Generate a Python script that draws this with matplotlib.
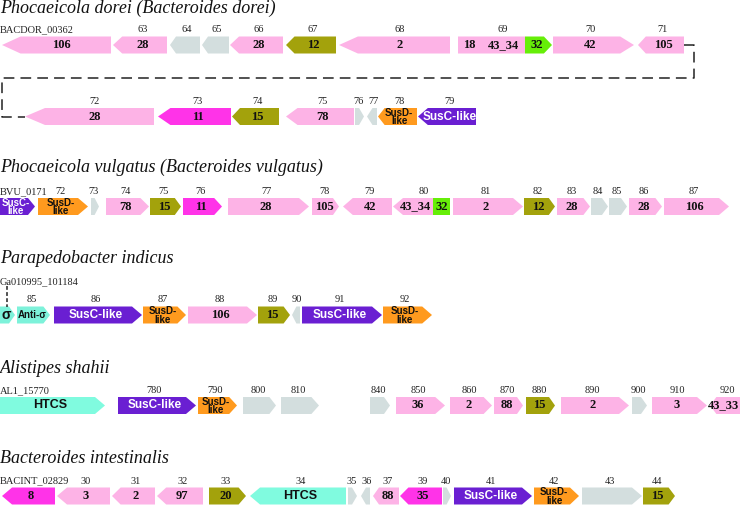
import matplotlib.pyplot as plt
from matplotlib.patches import Polygon, Rectangle

# gene rows, x in picture units (0..740); strand 1 = forward, -1 = reverse
DOREI_TITLE = 'Phocaeicola dorei (Bacteroides dorei)'
DOREI_A_LABELS = ['BACDOR_00362', '63', '64', '65', '66', '67', '68', '69', '70', '71']
DOREI_A_START = [2, 113, 170, 202, 230, 286, 339, 458, 553, 638]
DOREI_A_END = [111, 167, 200, 229, 283, 336, 450, 552, 634, 684]
DOREI_A_STRAND = [-1, -1, -1, -1, -1, -1, -1, 1, 1, -1]
DOREI_A_FAMILY = ['GH106', 'GH28', '', '', 'GH28', 'CE12', 'GH2', 'GH18|GH43_34|CBM32', 'GH42', 'GH105']

DOREI_B_LABELS = ['72', '73', '74', '75', '76', '77', '78', '79']
DOREI_B_START = [25, 158, 232, 286, 355, 367, 378, 418]
DOREI_B_END = [154, 231, 279, 354, 364, 377, 417, 476]
DOREI_B_STRAND = [-1, -1, -1, -1, 1, -1, -1, -1]
DOREI_B_FAMILY = ['GH28', 'PL11', 'CE15', 'GH78', '', '', 'SusD', 'SusC']

VULGATUS_TITLE = 'Phocaeicola vulgatus (Bacteroides vulgatus)'
VULGATUS_LABELS = ['BVU_0171', '72', '73', '74', '75', '76', '77', '78', '79', '80',
                   '81', '82', '83', '84', '85', '86', '87']
VULGATUS_START = [0, 38, 91, 106, 150, 183, 228, 312, 343, 393, 453, 524, 557, 591, 609, 629, 664]
VULGATUS_END = [35, 88, 99, 149, 181, 222, 309, 339, 392, 450, 523, 555, 590, 608, 627, 662, 729]
VULGATUS_STRAND = [1, 1, 1, 1, 1, 1, 1, 1, -1, -1, 1, 1, 1, 1, 1, 1, 1]
VULGATUS_FAMILY = ['SusC', 'SusD', '', 'GH78', 'CE15', 'PL11', 'GH28', 'GH105', 'GH42',
                   'GH43_34|CBM32', 'GH2', 'CE12', 'GH28', '', '', 'GH28', 'GH106']

INDICUS_TITLE = 'Parapedobacter indicus'
INDICUS_LABELS = ['Ga010995_101184', '85', '86', '87', '88', '89', '90', '91', '92']
INDICUS_START = [0, 17, 54, 143, 188, 258, 292, 302, 383]
INDICUS_END = [15, 50, 142, 186, 257, 290, 300, 382, 432]
INDICUS_STRAND = [1, 1, 1, 1, 1, 1, -1, 1, 1]
INDICUS_FAMILY = ['sigma', 'antisigma', 'SusC', 'SusD', 'GH106', 'CE15', '', 'SusC', 'SusD']

SHAHII_TITLE = 'Alistipes shahii'
SHAHII_LABELS = ['AL1_15770', '780', '790', '800', '810', '840', '850', '860', '870',
                 '880', '890', '900', '910', '920']
SHAHII_START = [0, 118, 198, 243, 281, 370, 396, 450, 494, 526, 561, 632, 652, 710]
SHAHII_END = [105, 196, 237, 276, 319, 390, 445, 492, 523, 555, 629, 647, 707, 742]
SHAHII_STRAND = [1, 1, 1, 1, 1, 1, 1, 1, 1, 1, 1, 1, 1, -1]
SHAHII_FAMILY = ['HTCS', 'SusC', 'SusD', '', '', '', 'GH36', 'GH2', 'GH88', 'CE15',
                 'GH2', '', 'GH3', 'GH43_33']

INTESTINALIS_TITLE = 'Bacteroides intestinalis'
INTESTINALIS_LABELS = ['BACINT_02829', '30', '31', '32', '33', '34', '35', '36', '37',
                       '39', '40', '41', '42', '43', '44']
INTESTINALIS_START = [2, 57, 112, 157, 209, 250, 348, 361, 373, 400, 443, 454, 534, 582, 643]
INTESTINALIS_END = [55, 110, 155, 203, 246, 346, 357, 370, 399, 442, 451, 532, 579, 642, 675]
INTESTINALIS_STRAND = [-1, -1, -1, -1, 1, -1, 1, -1, -1, -1, 1, 1, 1, 1, 1]
INTESTINALIS_FAMILY = ['PL8', 'GH3', 'GH2', 'GH97', 'CE20', 'HTCS', '', '', 'GH88',
                       'PL35', '', 'SusC', 'SusD', '', 'CE15']

# where multi-domain genes change domain
DOMAIN_SPLITS = {'69': [481, 525], '80': [433]}

COLORS = {'GH': '#FDB3E6', 'CE': '#A3A20C', 'PL': '#FF33E8', 'CBM': '#66EE08',
          'SusC': '#6A1FD2', 'SusD': '#FF9A1E', 'HTCS': '#80FBDF', 'sigma': '#7DF2DA',
          'antisigma': '#7DF2DA', '': '#D3DEDE'}

SERIF = 'Liberation Serif'
SANS = 'Liberation Sans'
H = 17
XMAX = 740


def category(fam):
    for p in ['GH', 'CE', 'PL', 'CBM']:
        if fam.startswith(p):
            return p
    return fam


def head_len(L, cap, factor):
    if L < 14:
        return L * 0.55
    return min(max(L * factor, 6), cap)


def draw_text(ax, x, y, fam, L):
    cat = category(fam)
    if cat in ('GH', 'CE', 'PL', 'CBM'):
        txt = fam[len(cat):]
        ha = 'center'
        # keep a label that would run past the right edge inside the picture
        if x + 3.2 * len(txt) > XMAX:
            x, ha = XMAX - 1, 'right'
        ax.text(x, y, txt, ha=ha, va='center', fontsize=9,
                fontweight='bold', family=SERIF, color='#111')
    elif cat == 'SusC':
        if L > 45:
            ax.text(x, y, 'SusC-like', ha='center', va='center', fontsize=8.5,
                    fontweight='bold', family=SANS, color='white')
        else:
            ax.text(x, y + 0.5, 'SusC-\nlike', ha='center', va='center', fontsize=7,
                    fontweight='bold', family=SANS, color='white', linespacing=0.8)
    elif cat == 'SusD':
        ax.text(x, y + 0.5, 'SusD-\nlike', ha='center', va='center', fontsize=7,
                fontweight='bold', family=SANS, color='#111', linespacing=0.8)
    elif cat == 'HTCS':
        ax.text(x, y, 'HTCS', ha='center', va='center', fontsize=9,
                fontweight='bold', family=SANS, color='#111')
    elif cat == 'sigma':
        ax.text(x, y, 'σ', ha='center', va='center', fontsize=10,
                fontweight='bold', family=SANS, color='#111')
    elif cat == 'antisigma':
        ax.text(x, y, 'Anti-σ', ha='center', va='center', fontsize=7,
                fontweight='bold', family=SANS, color='#111')


def draw_row(ax, yc, labels, starts, ends, strands, families, cap=10, factor=0.2,
             first_label=True):
    top = yc - H / 2
    bot = yc + H / 2
    for lab, s, e, st, fam in zip(labels, starts, ends, strands, families):
        L = e - s
        hd = head_len(L, cap, factor)
        doms = fam.split('|')
        bounds = [s] + DOMAIN_SPLITS.get(lab, []) + [e]
        if len(doms) > 1:
            term = (bounds[-1] - bounds[-2]) if st > 0 else (bounds[1] - bounds[0])
            hd = min(hd, term * 0.3)
        if st > 0:
            pts = [(s, top), (e - hd, top), (e, yc), (e - hd, bot), (s, bot)]
            b0, b1 = s, e - hd
        else:
            pts = [(e, top), (s + hd, top), (s, yc), (s + hd, bot), (e, bot)]
            b0, b1 = s + hd, e
        for dom, d0, d1 in zip(doms, bounds[:-1], bounds[1:]):
            poly = Polygon(pts, closed=True, facecolor=COLORS[category(dom)],
                           edgecolor='none')
            ax.add_patch(poly)
            if len(doms) > 1:
                clip = Rectangle((d0, top - 1), d1 - d0, H + 2, transform=ax.transData)
                poly.set_clip_path(clip)
            c0, c1 = max(d0, b0), min(d1, b1)
            tx = ((d0 + d1) / 2 + (c0 + c1) / 2) / 2
            if dom:
                draw_text(ax, tx, yc, dom, L)
        lx = ((s + e) / 2 + (b0 + b1) / 2) / 2
        if lab == labels[0] and first_label:
            if lab.startswith('Ga'):
                continue
            ax.text(0, top - 4, lab, ha='left', va='baseline', fontsize=7.5,
                    family=SERIF, color='#222')
        else:
            ax.text(lx, top - 4, lab, ha='center', va='baseline', fontsize=7.5,
                    family=SERIF, color='#222')


def title(ax, y, txt):
    ax.text(0, y, txt, ha='left', va='baseline', fontsize=13, style='italic',
            family=SERIF, color='#111')


fig = plt.figure(figsize=(7.4, 5.05), dpi=100)
ax = fig.add_axes([0, 0, 1, 1])
ax.set_xlim(0, XMAX)
ax.set_ylim(505, 0)
ax.axis('off')

ya, yb = 45, 116.5
title(ax, 13, DOREI_TITLE)
draw_row(ax, ya, DOREI_A_LABELS, DOREI_A_START, DOREI_A_END, DOREI_A_STRAND,
         DOREI_A_FAMILY, cap=20, factor=0.17)
draw_row(ax, yb, DOREI_B_LABELS, DOREI_B_START, DOREI_B_END, DOREI_B_STRAND,
         DOREI_B_FAMILY, cap=20, factor=0.17, first_label=False)

# dashed connector wrapping the P. dorei cluster onto the second line
xr = max(DOREI_A_END) + 10
wrap_y = 78
ax.plot([max(DOREI_A_END), xr, xr, 2, 2, min(DOREI_B_START)],
        [ya, ya, wrap_y, wrap_y, yb, yb], color='#222', lw=1.1,
        linestyle=(0, (7, 4)))

title(ax, 172, VULGATUS_TITLE)
draw_row(ax, 206.5, VULGATUS_LABELS, VULGATUS_START, VULGATUS_END, VULGATUS_STRAND,
         VULGATUS_FAMILY)

title(ax, 263, INDICUS_TITLE)
y3 = 315
draw_row(ax, y3, INDICUS_LABELS, INDICUS_START, INDICUS_END, INDICUS_STRAND,
         INDICUS_FAMILY)
ax.text(0, 284, INDICUS_LABELS[0], ha='left', va='baseline', fontsize=7.5,
        family=SERIF, color='#222')
ax.plot([7, 7], [286, y3 - H / 2], color='#222', lw=1.1, linestyle=(0, (2.5, 1.5)))

title(ax, 373, SHAHII_TITLE)
draw_row(ax, 405.5, SHAHII_LABELS, SHAHII_START, SHAHII_END, SHAHII_STRAND,
         SHAHII_FAMILY)

title(ax, 463, INTESTINALIS_TITLE)
draw_row(ax, 496, INTESTINALIS_LABELS, INTESTINALIS_START, INTESTINALIS_END,
         INTESTINALIS_STRAND, INTESTINALIS_FAMILY)

fig.savefig('out.png', dpi=100)
